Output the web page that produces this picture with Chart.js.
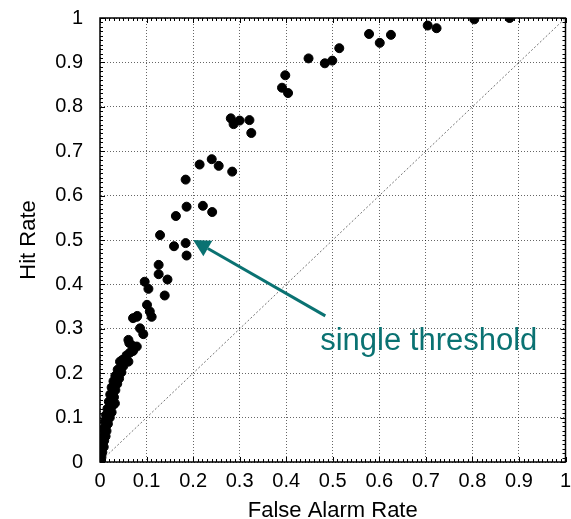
<!DOCTYPE html>
<html>
<head>
<meta charset="utf-8">
<script src="https://cdn.jsdelivr.net/npm/chart.js@4/dist/chart.umd.min.js"></script>
<style>
html,body{margin:0;padding:0;background:#fff;}
#wrap{width:571px;height:519px;}
</style>
</head>
<body>
<div id="wrap"><canvas id="c" width="571" height="519"></canvas></div>
<script>
// ROC points: false alarm rate (x) and hit rate (y)
const falseAlarm = [
  0.880,0.804,0.723,0.704,0.625,0.601,0.578,0.514,0.499,0.483,0.448,
  0.398,0.391,0.404,0.321,0.325,0.300,0.287,0.281,0.284,0.255,0.240,0.214,0.184,
  0.186,0.221,0.241,0.163,0.129,0.159,0.184,0.186,0.126,0.126,0.145,0.096,0.104,
  0.139,0.101,0.107,0.079,0.111,0.071,0.080,0.086,0.093,0.061,0.063,0.071,0.079,
  0.043,0.061,0.043,0.036,
  0.001,0.003,0.002,0.005,0.004,0.008,0.006,0.009,0.007,0.012,0.010,0.014,0.009,
  0.013,0.017,0.011,0.016,0.021,0.013,0.019,0.025,0.016,0.022,0.028,0.032,0.019,
  0.025,0.030,0.022,0.028,0.033,0.025,0.031,0.037,0.029,0.035,0.041,0.033,0.040,
  0.046,0.038,0.045,0.050,0.048,0.055,0.057,0.064,0.071
];
const hitRate = [
  1.000,0.997,0.977,0.983,0.962,0.944,0.964,0.932,0.904,0.898,0.909,
  0.871,0.843,0.831,0.770,0.741,0.769,0.761,0.774,0.654,0.667,0.682,0.670,0.636,
  0.575,0.577,0.563,0.554,0.511,0.486,0.493,0.465,0.444,0.423,0.411,0.406,0.390,
  0.375,0.354,0.339,0.327,0.327,0.324,0.329,0.301,0.288,0.275,0.268,0.261,0.260,
  0.226,0.226,0.203,0.192,
  0.003,0.010,0.018,0.022,0.030,0.034,0.042,0.048,0.055,0.058,0.066,0.070,0.076,
  0.082,0.086,0.092,0.097,0.100,0.106,0.110,0.112,0.120,0.124,0.128,0.132,0.136,
  0.140,0.146,0.152,0.158,0.162,0.168,0.172,0.176,0.182,0.186,0.188,0.194,0.198,
  0.202,0.208,0.212,0.216,0.230,0.228,0.240,0.246,0.250
];
// chance diagonal
const diagX = [0, 1];
const diagY = [0, 1];
// annotation
const annotationText = "single threshold";
const arrowTip = [0.2, 0.5];
const arrowTail = [0.484, 0.329];
const textPos = [0.473, 0.252];

const FONT = "'Liberation Sans', Arial, Helvetica, sans-serif";
const TEAL = '#0a7272';

const points = falseAlarm.map((x, i) => ({x: x, y: hitRate[i]}));
const diag = diagX.map((x, i) => ({x: x, y: diagY[i]}));

const fmt = v => {
  const r = Math.round(v * 10) / 10;
  return (r === 0 || r === 1) ? String(r) : r.toFixed(1);
};

const framePlugin = {
  id: 'frame',
  afterDatasetsDraw(chart) {
    const {ctx, chartArea: a, scales: {x, y}} = chart;
    ctx.save();
    ctx.strokeStyle = '#000';
    ctx.lineWidth = 1;
    // minor ticks every 0.01 on all four sides, inward
    for (let i = 0; i <= 100; i++) {
      const v = i / 100;
      const len = (i % 10 === 0) ? 5 : 3;
      const px = Math.round(x.getPixelForValue(v)) + 0.5;
      const py = Math.round(y.getPixelForValue(v)) + 0.5;
      ctx.beginPath();
      ctx.moveTo(px, a.bottom); ctx.lineTo(px, a.bottom - len);
      ctx.moveTo(px, a.top); ctx.lineTo(px, a.top + len);
      ctx.moveTo(a.left, py); ctx.lineTo(a.left + len, py);
      ctx.moveTo(a.right, py); ctx.lineTo(a.right - len, py);
      ctx.stroke();
    }
    ctx.lineWidth = 1.5;
    ctx.strokeRect(a.left, a.top, a.right - a.left, a.bottom - a.top);

    // annotation arrow
    const tx = x.getPixelForValue(arrowTip[0]), ty = y.getPixelForValue(arrowTip[1]);
    const sx = x.getPixelForValue(arrowTail[0]), sy = y.getPixelForValue(arrowTail[1]);
    const ang = Math.atan2(ty - sy, tx - sx);
    const hl = 17, hw = 9;
    const bx = tx - hl * Math.cos(ang), by = ty - hl * Math.sin(ang);
    ctx.strokeStyle = TEAL;
    ctx.fillStyle = TEAL;
    ctx.lineWidth = 3;
    ctx.beginPath();
    ctx.moveTo(sx, sy); ctx.lineTo(bx, by);
    ctx.stroke();
    ctx.beginPath();
    ctx.moveTo(tx, ty);
    ctx.lineTo(bx + hw * Math.sin(ang), by - hw * Math.cos(ang));
    ctx.lineTo(bx - hw * Math.sin(ang), by + hw * Math.cos(ang));
    ctx.closePath();
    ctx.fill();
    ctx.font = "31px " + FONT;
    ctx.textAlign = 'left';
    ctx.textBaseline = 'alphabetic';
    ctx.fillText(annotationText, x.getPixelForValue(textPos[0]), y.getPixelForValue(textPos[1]));
    ctx.restore();
  }
};

new Chart(document.getElementById('c'), {
  type: 'scatter',
  data: {
    datasets: [
      {
        type: 'line',
        data: diag,
        borderColor: 'rgba(0,0,0,0.55)',
        borderWidth: 1,
        borderDash: [2, 2],
        pointRadius: 0,
        fill: false,
        order: 2
      },
      {
        data: points,
        backgroundColor: '#000',
        borderColor: '#000',
        pointRadius: 4.5,
        pointHoverRadius: 4.5,
        order: 1
      }
    ]
  },
  options: {
    responsive: false,
    animation: false,
    events: [],
    layout: {padding: {top: 18, right: 4, left: 0, bottom: 0}},
    plugins: {legend: {display: false}, tooltip: {enabled: false}},
    scales: {
      x: {
        type: 'linear', min: 0, max: 1,
        ticks: {stepSize: 0.1, color: '#000', padding: 7, font: {family: FONT, size: 20}, maxRotation: 0, callback: fmt},
        grid: {color: 'rgba(0,0,0,0.6)', drawTicks: false, borderDash: [1, 2]},
        border: {display: true, color: 'rgba(0,0,0,0)', dash: [1, 2]},
        title: {display: true, text: 'False Alarm Rate', color: '#000', font: {family: FONT, size: 22}, padding: {top: 0, bottom: -5}},
        afterFit(s) { s.height = 57; s.paddingLeft = 0; s.paddingRight = 0; }
      },
      y: {
        type: 'linear', min: 0, max: 1,
        ticks: {stepSize: 0.1, color: '#000', padding: 17, font: {family: FONT, size: 20}, callback: fmt},
        grid: {color: 'rgba(0,0,0,0.6)', drawTicks: false, borderDash: [1, 2]},
        border: {display: true, color: 'rgba(0,0,0,0)', dash: [1, 2]},
        title: {display: true, text: 'Hit Rate', color: '#000', font: {family: FONT, size: 22}, padding: {top: 16, bottom: 0}},
        afterFit(s) { s.width = 100; s.paddingTop = 0; s.paddingBottom = 0; }
      }
    }
  },
  plugins: [framePlugin]
});
</script>
</body>
</html>
